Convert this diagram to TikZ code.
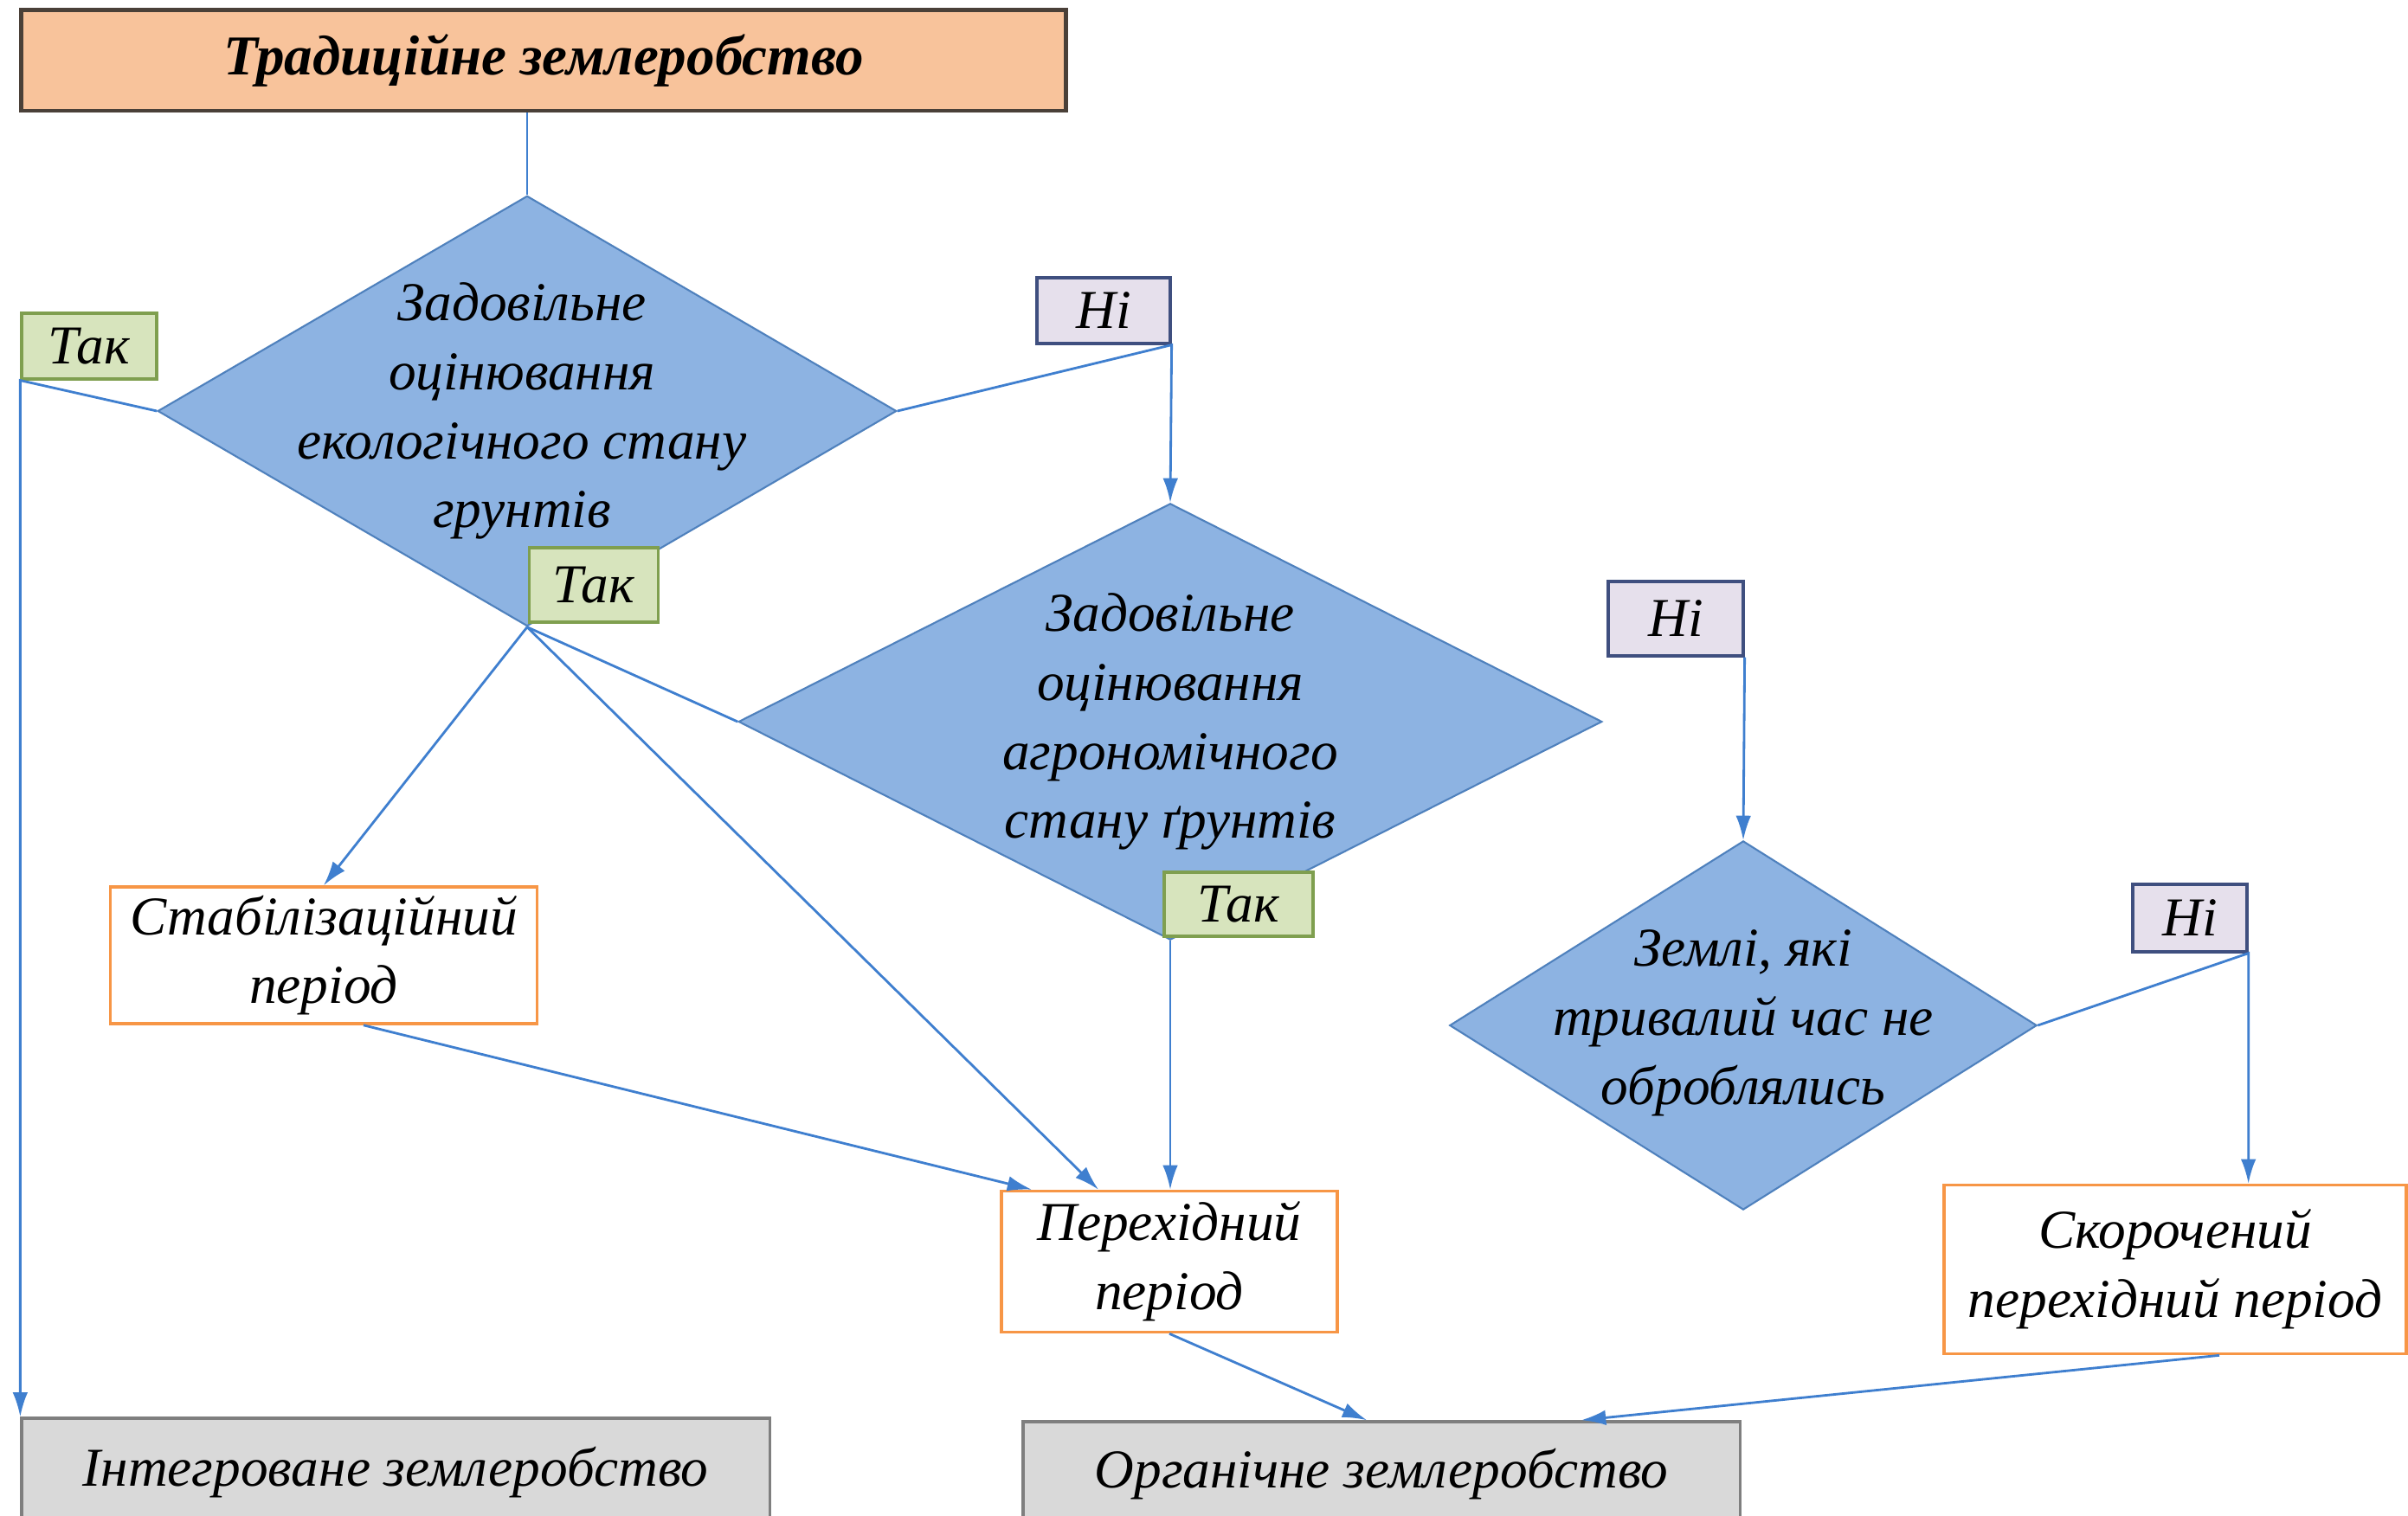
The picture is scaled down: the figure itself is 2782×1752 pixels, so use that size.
\documentclass[tikz,border=0pt]{standalone}
\usepackage{fontspec}
\setmainfont{Liberation Serif}
\usetikzlibrary{shapes.geometric,arrows.meta}
\definecolor{peach}{HTML}{F8C39B}
\definecolor{peachline}{HTML}{4A4038}
\definecolor{diafill}{HTML}{8DB3E2}
\definecolor{dialine}{HTML}{4F81BD}
\definecolor{yesfill}{HTML}{D7E4BD}
\definecolor{yesline}{HTML}{7F9F4F}
\definecolor{nofill}{HTML}{E6E0EC}
\definecolor{noline}{HTML}{3F4F7F}
\definecolor{orangeline}{HTML}{F79646}
\definecolor{grayfill}{HTML}{D9D9D9}
\definecolor{grayline}{HTML}{7F7F7F}
\definecolor{connc}{HTML}{3F7FCF}
\begin{document}
\begin{tikzpicture}[x=0.01cm,y=-0.01cm,
  txt/.style={font=\fontsize{18}{22.7}\selectfont\itshape, align=center, inner sep=0pt},
  topbox/.style={txt, font=\fontsize{18.5}{22.7}\selectfont\itshape\bfseries, draw=peachline, line width=1.4pt, fill=peach},
  dia/.style={diamond, draw=dialine, fill=diafill, line width=0.6pt, inner sep=0pt},
  yesbox/.style={txt, draw=yesline, fill=yesfill, line width=0.9pt},
  nobox/.style={txt, draw=noline, fill=nofill, line width=0.9pt},
  perbox/.style={txt, draw=orangeline, fill=white, line width=1pt},
  endbox/.style={txt, draw=grayline, fill=grayfill, line width=1pt},
  conn/.style={draw=connc, line width=0.8pt},
  arr/.style={conn, -{Latex[length=8pt,width=5pt]}}
]
\useasboundingbox[fill=white] (0,0) rectangle (2782,1752);

% main nodes
\node[topbox, minimum width=12.06cm, minimum height=1.16cm] (top) at (628,70) {Традиційне землеробство};

\node[dia, minimum width=8.53cm, minimum height=4.97cm] (d1) at (609,475) {};
\node[txt] (d1t) at (603,475) {Задовільне\\оцінювання\\екологічного стану\\грунтів};

\node[dia, minimum width=9.97cm, minimum height=5.04cm] (d2) at (1352,834) {};
\node[txt] (d2t) at (1352,834) {Задовільне\\оцінювання\\агрономічного\\стану ґрунтів};

\node[dia, minimum width=6.78cm, minimum height=4.26cm] (d3) at (2014,1185) {};
\node[txt] (d3t) at (2014,1182) {Землі, які\\тривалий час не\\оброблялись};

\node[perbox, minimum width=4.93cm, minimum height=1.58cm] (stab) at (374,1104) {Стабілізаційний\\період};
\node[perbox, minimum width=3.88cm, minimum height=1.63cm] (trans) at (1351,1458) {Перехідний\\період};
\node[perbox, minimum width=5.34cm, minimum height=1.95cm] (short) at (2513,1467) {Скорочений\\перехідний період};

\node[endbox, minimum width=8.64cm, minimum height=1.26cm] (integ) at (457,1702) {Інтегроване землеробство};
\node[endbox, minimum width=8.28cm, minimum height=1.22cm] (organic) at (1596,1704) {Органічне землеробство};

% labels
\node[yesbox, minimum width=1.56cm, minimum height=0.76cm] (tak1) at (103,400) {Так};
\node[nobox, minimum width=1.54cm, minimum height=0.76cm] (ni1) at (1275,359) {Ні};
\node[yesbox, minimum width=1.49cm, minimum height=0.86cm] (tak2) at (686,676) {Так};
\node[yesbox, minimum width=1.72cm, minimum height=0.74cm] (tak3) at (1431,1045) {Так};
\node[nobox, minimum width=1.56cm, minimum height=0.86cm] (ni2) at (1936,715) {Ні};
\node[nobox, minimum width=1.32cm, minimum height=0.78cm] (ni3) at (2530,1061) {Ні};

% connectors
\draw[conn] (d1.north |- top.south) -- (d1.north);
\draw[arr] (d1.west) -- (tak1.south west) -- (tak1.south west |- integ.north);
\draw[arr] (d1.east) -- (ni1.south east) -- (d2.north);
\draw[arr] (d1.south) -- (stab.north);
\draw[arr] (d1.south) -- ([xshift=-0.82cm]trans.north);
\draw[conn] (d1.south) -- (d2.west);
\draw[arr] (d2.south) -- (trans.north -| d2.south);
\draw[arr] ([xshift=0.46cm]stab.south) -- ([xshift=-1.59cm]trans.north);
\draw[arr] (trans.south) -- ([xshift=-0.17cm]organic.north);
\draw[arr] (ni2.south east) -- (d3.north);
\draw[arr] (d3.east) -- (ni3.south east) -- (short.north -| ni3.south east);
\draw[arr] ([xshift=0.51cm]short.south) -- ([xshift=2.31cm]organic.north);
\end{tikzpicture}
\end{document}
